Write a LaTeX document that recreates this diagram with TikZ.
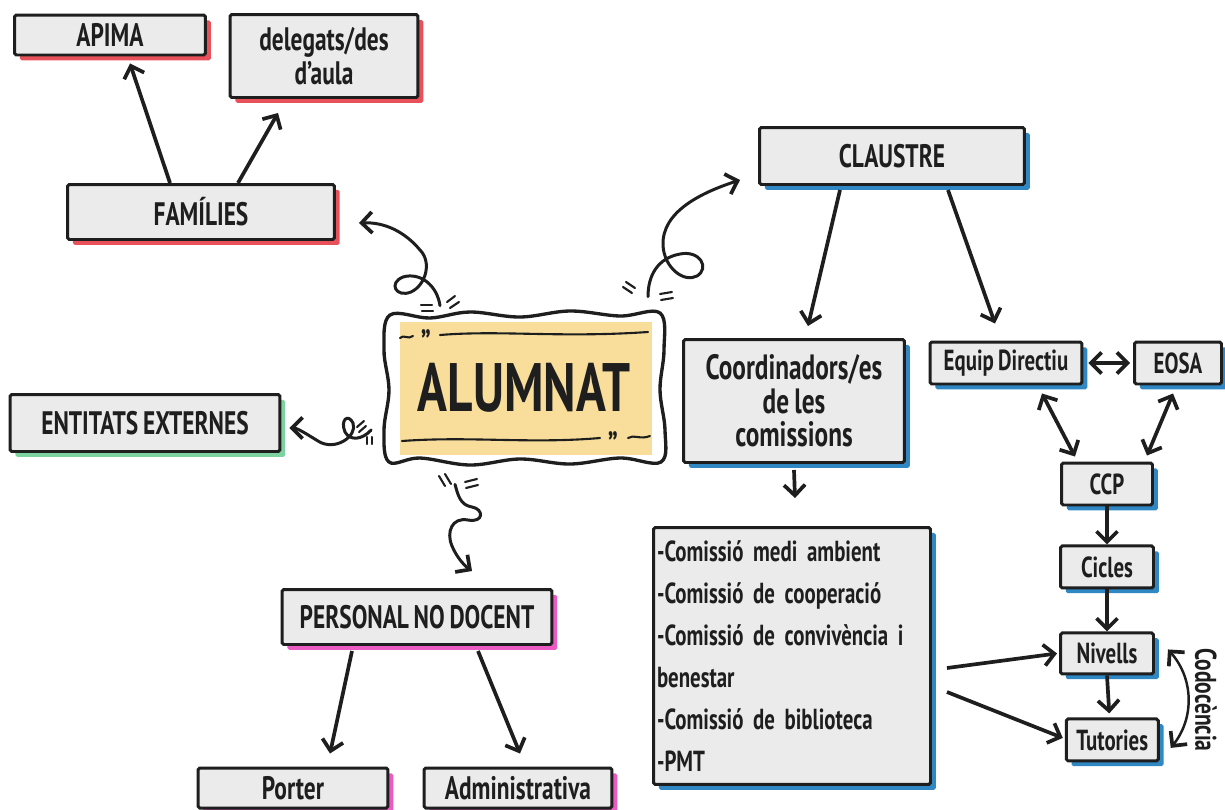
\documentclass[tikz,border=0pt]{standalone}
\usepackage{fontspec}
\setmainfont[FakeStretch=0.72, WordSpace=0.8]{PT Sans}
\usepackage{xcolor}
\usetikzlibrary{arrows.meta, positioning, calc, shadows}

\definecolor{boxgray}{HTML}{EBEBEB}
\definecolor{inkblack}{HTML}{1E1E1E}
\definecolor{famred}{HTML}{E8515A}
\definecolor{clblue}{HTML}{2F88C4}
\definecolor{entgreen}{HTML}{7DD3A0}
\definecolor{perpink}{HTML}{EC5BC4}
\definecolor{alumyellow}{HTML}{F9DE9B}

\begin{document}
\begin{tikzpicture}[x=0.02cm, y=-0.02cm,
  card/.style={draw=inkblack, line width=1.7pt, fill=boxgray, rounded corners=1pt,
    inner sep=2pt, text=inkblack, align=center, font=\fontsize{18.5}{19}\selectfont\bfseries},
  redcard/.style={card, drop shadow={fill=famred, opacity=1, shadow xshift=3pt, shadow yshift=-3pt}},
  bluecard/.style={card, drop shadow={fill=clblue, opacity=1, shadow xshift=3pt, shadow yshift=-3pt}},
  greencard/.style={card, drop shadow={fill=entgreen, opacity=1, shadow xshift=3pt, shadow yshift=-3pt}},
  pinkcard/.style={card, drop shadow={fill=perpink, opacity=1, shadow xshift=3pt, shadow yshift=-3pt}},
  small/.style={font=\fontsize{16.5}{17}\selectfont\bfseries},
  link/.style={-{Straight Barb[length=6pt, width=12pt, line width=2.1pt]}, line width=2.1pt, draw=inkblack},
  twoway/.style={link, {Straight Barb[length=6pt, width=12pt, line width=2.1pt]}-{Straight Barb[length=6pt, width=12pt, line width=2.1pt]}},
  curly/.style={link, line width=1.7pt, line cap=round},
  spark/.style={draw=inkblack, line width=1.2pt, line cap=round}]

\fill[white] (0,0) rectangle (1225,809);
\useasboundingbox (0,0) rectangle (1225,809);

% centre
\fill[alumyellow] (400,322) rectangle (652,455);
\node[minimum width=5.54cm, minimum height=3cm, inner sep=0, text=inkblack,
  font=\fontsize{39}{40}\selectfont\bfseries] (alumnat) at (524,388) {ALUMNAT};
\draw[inkblack, line width=1.9pt] plot[smooth cycle, tension=0.6] coordinates {
  (390,315) (430,318) (470,312) (520,317) (570,311) (620,316) (660,313)
  (664,350) (660,390) (665,430) (661,462)
  (620,458) (570,464) (520,459) (470,465) (420,458) (389,462)
  (384,430) (389,390) (384,350)};
\draw[spark] (440,335) .. controls (500,330) and (560,338) .. (648,332);
\draw[spark] (400,338) .. controls (404,334) and (408,340) .. (413,336);
\node[text=inkblack, font=\fontsize{20}{20}\selectfont\bfseries] (qtop) at (426,342) {”};
\draw[spark] (402,441) .. controls (470,436) and (530,444) .. (600,438);
\node[text=inkblack, font=\fontsize{20}{20}\selectfont\bfseries] (qbot) at (613,444) {”};
\draw[spark] (628,438) .. controls (634,434) and (640,440) .. (650,436);

% families side
\node[redcard, minimum width=3.82cm, minimum height=0.8cm] (apima) at (110,35) {APIMA};
\node[redcard, minimum width=3.76cm, minimum height=1.66cm] (deleg) at (324,56) {delegats/des\\d’aula};
\node[redcard, minimum width=5.34cm, minimum height=1.1cm] (fam) at (201,212) {FAMÍLIES};
\node[greencard, minimum width=5.4cm, minimum height=1.14cm] (ent) at (145,423) {ENTITATS EXTERNES};

% staff
\node[pinkcard, minimum width=5.4cm, minimum height=1.1cm] (personal) at (417,617) {PERSONAL NO DOCENT};
\node[pinkcard, minimum width=3.8cm, minimum height=0.8cm, text depth=0pt] (porter) at (293,788) {Porter};
\node[pinkcard, minimum width=3.76cm, minimum height=0.8cm, text depth=0pt] (admin) at (518,788) {Administrativa};

% teachers
\node[bluecard, minimum width=5.3cm, minimum height=1.14cm] (claustre) at (892,156) {CLAUSTRE};
\node[bluecard, minimum width=4.42cm, minimum height=2.46cm, font=\fontsize{20}{19}\selectfont\bfseries] (coord) at (794,401)
  {Coordinadors/es\\de les\\comissions};
\node[bluecard, small, minimum width=3.04cm, minimum height=0.84cm] (ed) at (1006,363) {Equip Directiu};
\node[bluecard, small, minimum width=1.74cm, minimum height=0.84cm] (eosa) at (1178,363) {EOSA};
\node[bluecard, small, minimum width=1.82cm, minimum height=0.84cm] (ccp) at (1107,484) {CCP};
\node[bluecard, small, minimum width=1.86cm, minimum height=0.84cm, below=0.76cm of ccp] (cicles) {Cicles};
\node[bluecard, small, minimum width=1.86cm, minimum height=0.82cm, below=0.84cm of cicles] (nivells) {Nivells};
\node[bluecard, small, minimum width=1.84cm, minimum height=0.84cm, below=0.84cm of nivells, xshift=3pt] (tutories) {Tutories};
\node[bluecard, minimum width=5.52cm, minimum height=5.14cm, text width=5.4cm, align=left,
  font=\fontsize{16.5}{24}\selectfont\bfseries] (list) at (792,656)
  {-Comissió medi ambient\\-Comissió de cooperació\\-Comissió de convivència i\\benestar\\-Comissió de biblioteca\\-PMT};
\node[rotate=-90, text=inkblack, font=\fontsize{17}{17}\selectfont\bfseries] (codo) at (1206,700) {Codocència};

% straight links
\draw[link] ($(fam.north)+(-31,0)$) -- ($(apima.south)+(20,7)$);
\draw[link] ($(fam.north)+(37,0)$) -- ($(deleg.south)+(-46,14)$);
\draw[link] ($(claustre.south)+(-52,4)$) -- ($(coord.north)+(14,-12)$);
\draw[link] ($(claustre.south)+(56,4)$) -- ($(ed.north)+(-11,-17)$);
\draw[link] ($(coord.south)+(0,6)$) -- ($(list.north)+(3,-28)$);
\draw[twoway] ($(ed.east)+(5,0)$) -- ($(eosa.west)+(-3,0)$);
\draw[twoway] ($(ed.south)+(36,8)$) -- ($(ccp.north)+(-32,-5)$);
\draw[twoway] ($(eosa.south)+(-5,8)$) -- ($(ccp.north)+(40,-6)$);
\draw[link] (ccp) -- (cicles);
\draw[link] (cicles) -- (nivells);
\draw[link] (nivells.south) -- ($(tutories.north)+(-3,-4)$);
\draw[link] ($(list.east)+(15,12)$) -- ($(nivells.west)+(-2,0)$);
\draw[link] ($(list.east)+(15,36)$) -- ($(tutories.west)+(-2,-2)$);
\draw[twoway, line width=1.4pt] ($(nivells.east)+(13,-4)$) to[bend left=40] ($(tutories.east)+(11,8)$);
\draw[link] ($(personal.south)+(-65,5)$) -- ($(porter.north)+(37,-13)$);
\draw[link] ($(personal.south)+(61,5)$) -- ($(admin.north)+(2,-13)$);

% curly links from the centre
\draw[curly] ($(alumnat.north)+(-84,-7)$) .. controls (437,285) and (420,272) .. (403,277)
  .. controls (388,283) and (396,298) .. (411,292) .. controls (426,285) and (432,262) .. (420,250)
  .. controls (405,232) and (385,222) .. ($(fam.south east)+(23,-18)$);
\draw[curly] ($(alumnat.north)+(124,-16)$) .. controls (648,275) and (658,258) .. (680,254)
  .. controls (700,250) and (710,268) .. (697,276) .. controls (684,283) and (664,268) .. (663,245)
  .. controls (662,212) and (700,193) .. ($(claustre.west)+(-18,24)$);
\draw[curly] ($(alumnat.west)+(-14,42)$) .. controls (362,440) and (350,441) .. (345,432)
  .. controls (340,420) and (348,413) .. (353,423) .. controls (358,436) and (335,452) .. (318,441)
  .. controls (305,433) and (297,428) .. ($(ent.east)+(8,5)$);
\draw[curly] ($(alumnat.south)+(-69,21)$) .. controls (458,495) and (460,505) .. (472,507)
  .. controls (484,509) and (484,523) .. (468,520) .. controls (452,517) and (446,532) .. (452,546)
  .. controls (457,558) and (465,566) .. ($(personal.north)+(55,-17)$);

% little strokes
\draw[spark] (421,305) -- (432,305) (422,311) -- (433,311);
\draw[spark] (447,302) -- (455,296) (450,308) -- (459,302);
\draw[spark] (623,287) -- (632,293) (626,282) -- (635,288);
\draw[spark] (660,294) -- (672,292) (661,300) -- (673,298);
\draw[spark] (357,427) -- (364,421) (359,432) -- (366,426);
\draw[spark] (367,437) -- (367,444) (372,437) -- (372,444);
\draw[spark] (439,476) -- (445,486) (445,474) -- (451,484);
\draw[spark] (465,482) -- (477,479) (466,488) -- (478,485);
\end{tikzpicture}
\end{document}
